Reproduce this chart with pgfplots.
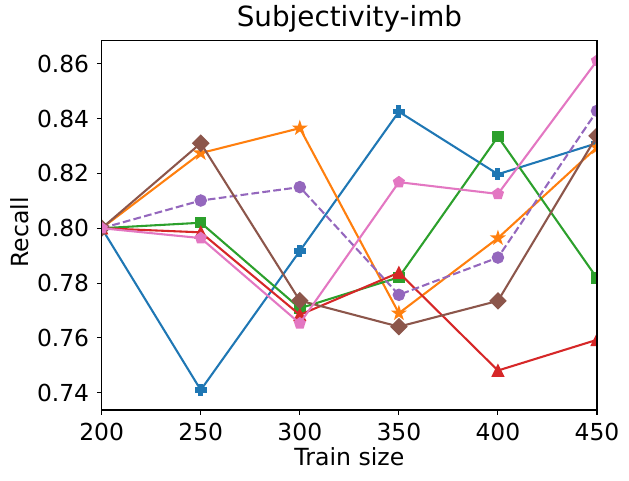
\documentclass[border=0pt]{standalone}
\usepackage{fontspec}
\setmainfont{DejaVu Sans}
\usepackage{pgfplots}
\pgfplotsset{compat=1.18}
\usetikzlibrary{plotmarks}
\definecolor{C0}{HTML}{1F77B4}
\definecolor{C1}{HTML}{FF7F0E}
\definecolor{C2}{HTML}{2CA02C}
\definecolor{C3}{HTML}{D62728}
\definecolor{C4}{HTML}{9467BD}
\definecolor{C5}{HTML}{8C564B}
\definecolor{C6}{HTML}{E377C2}
\pgfdeclareplotmark{mplP}{%
  \pgfpathmoveto{\pgfqpoint{-0.333\pgfplotmarksize}{-\pgfplotmarksize}}%
  \pgfpathlineto{\pgfqpoint{0.333\pgfplotmarksize}{-\pgfplotmarksize}}%
  \pgfpathlineto{\pgfqpoint{0.333\pgfplotmarksize}{-0.333\pgfplotmarksize}}%
  \pgfpathlineto{\pgfqpoint{\pgfplotmarksize}{-0.333\pgfplotmarksize}}%
  \pgfpathlineto{\pgfqpoint{\pgfplotmarksize}{0.333\pgfplotmarksize}}%
  \pgfpathlineto{\pgfqpoint{0.333\pgfplotmarksize}{0.333\pgfplotmarksize}}%
  \pgfpathlineto{\pgfqpoint{0.333\pgfplotmarksize}{\pgfplotmarksize}}%
  \pgfpathlineto{\pgfqpoint{-0.333\pgfplotmarksize}{\pgfplotmarksize}}%
  \pgfpathlineto{\pgfqpoint{-0.333\pgfplotmarksize}{0.333\pgfplotmarksize}}%
  \pgfpathlineto{\pgfqpoint{-\pgfplotmarksize}{0.333\pgfplotmarksize}}%
  \pgfpathlineto{\pgfqpoint{-\pgfplotmarksize}{-0.333\pgfplotmarksize}}%
  \pgfpathlineto{\pgfqpoint{-0.333\pgfplotmarksize}{-0.333\pgfplotmarksize}}%
  \pgfpathclose\pgfusepathqfillstroke}
\pgfdeclareplotmark{mplStar}{%
  \pgfpathmoveto{\pgfpointpolar{90}{\pgfplotmarksize}}%
  \pgfpathlineto{\pgfpointpolar{126}{0.382\pgfplotmarksize}}%
  \pgfpathlineto{\pgfpointpolar{162}{\pgfplotmarksize}}%
  \pgfpathlineto{\pgfpointpolar{198}{0.382\pgfplotmarksize}}%
  \pgfpathlineto{\pgfpointpolar{234}{\pgfplotmarksize}}%
  \pgfpathlineto{\pgfpointpolar{270}{0.382\pgfplotmarksize}}%
  \pgfpathlineto{\pgfpointpolar{306}{\pgfplotmarksize}}%
  \pgfpathlineto{\pgfpointpolar{342}{0.382\pgfplotmarksize}}%
  \pgfpathlineto{\pgfpointpolar{18}{\pgfplotmarksize}}%
  \pgfpathlineto{\pgfpointpolar{54}{0.382\pgfplotmarksize}}%
  \pgfpathclose\pgfusepathqfillstroke}
\pgfdeclareplotmark{mplD}{%
  \pgfpathmoveto{\pgfqpoint{0pt}{\pgfplotmarksize}}%
  \pgfpathlineto{\pgfqpoint{\pgfplotmarksize}{0pt}}%
  \pgfpathlineto{\pgfqpoint{0pt}{-\pgfplotmarksize}}%
  \pgfpathlineto{\pgfqpoint{-\pgfplotmarksize}{0pt}}%
  \pgfpathclose\pgfusepathqfillstroke}
\pgfdeclareplotmark{mplTri}{%
  \pgfpathmoveto{\pgfqpoint{0pt}{\pgfplotmarksize}}%
  \pgfpathlineto{\pgfqpoint{-\pgfplotmarksize}{-\pgfplotmarksize}}%
  \pgfpathlineto{\pgfqpoint{\pgfplotmarksize}{-\pgfplotmarksize}}%
  \pgfpathclose\pgfusepathqfillstroke}
\pgfplotsset{
  mpl/.style={color=#1, line width=2.08bp, mark options={solid, line width=1.39bp, fill=#1, draw=#1}},
}
\begin{document}
\begin{tikzpicture}
\begin{axis}[
  at={(0,0)}, anchor=south west,
  scale only axis, width=495.3bp, height=369.3bp,
  xmin=200, xmax=450, ymin=0.7337, ymax=0.8684,
  xtick={200,250,300,350,400,450},
  ytick={0.74,0.76,0.78,0.80,0.82,0.84,0.86},
  xtick pos=bottom, ytick pos=left,
  tick align=outside, major tick length=4.86bp,
  every tick/.style={black, line width=1.1bp},
  axis line style={line width=1.1bp},
  axis on top,
  clip marker paths=true,
  ticklabel style={font=\fontsize{23.4bp}{27bp}\selectfont},
  /pgf/number format/assume math mode=true,
  scaled y ticks=false,
  yticklabel style={/pgf/number format/fixed, /pgf/number format/fixed zerofill, /pgf/number format/precision=2},
  yticklabel style={inner sep=0pt, anchor=east, xshift=-7.5bp},
  xticklabel style={inner sep=0pt, anchor=north, yshift=-8.4bp},
  title={Subjectivity-imb},
  title style={font=\fontsize{27.8bp}{32bp}\selectfont, at={(axis description cs:0.5,1)}, anchor=base, yshift=8.3bp, inner sep=0pt},
  xlabel={Train size},
  xlabel style={font=\fontsize{23.6bp}{27bp}\selectfont, at={(axis description cs:0.5,0)}, anchor=base, yshift=-55.7bp, inner sep=0pt},
  ylabel={Recall},
  ylabel style={font=\fontsize{23.6bp}{27bp}\selectfont, at={(axis description cs:-0.1474,0.4806)}, rotate=0, anchor=base, inner sep=0pt},
]
\addplot[mpl=C0, mark=mplP, mark size=5.55bp] coordinates {
  (200,0.8000) (250,0.7410) (300,0.7917) (350,0.8425) (400,0.8197) (450,0.8310)};
\addplot[mpl=C1, mark=mplStar, mark size=6.2bp] coordinates {
  (200,0.8000) (250,0.8274) (300,0.8365) (350,0.7690) (400,0.7964) (450,0.8295)};
\addplot[mpl=C2, mark=square*, mark size=5.0bp] coordinates {
  (200,0.8000) (250,0.8020) (300,0.7708) (350,0.7821) (400,0.8334) (450,0.7818)};
\addplot[mpl=C3, mark=mplTri, mark size=5.55bp] coordinates {
  (200,0.8000) (250,0.7985) (300,0.7684) (350,0.7838) (400,0.7481) (450,0.7593)};
\addplot[mpl=C4, dash pattern=on 7.7bp off 3.3bp, mark=*, mark size=5.55bp] coordinates {
  (200,0.8000) (250,0.8101) (300,0.8150) (350,0.7757) (400,0.7893) (450,0.8428)};
\addplot[mpl=C5, mark=mplD, mark size=7.8bp] coordinates {
  (200,0.8000) (250,0.8310) (300,0.7736) (350,0.7641) (400,0.7735) (450,0.8337)};
\addplot[mpl=C6, mark=pentagon*, mark size=5.55bp] coordinates {
  (200,0.8000) (250,0.7964) (300,0.7653) (350,0.8168) (400,0.8125) (450,0.8611)};
\end{axis}
\pgfresetboundingbox
\useasboundingbox (-101.7bp,-71bp) rectangle (527.3bp,410bp);
\end{tikzpicture}
\end{document}
